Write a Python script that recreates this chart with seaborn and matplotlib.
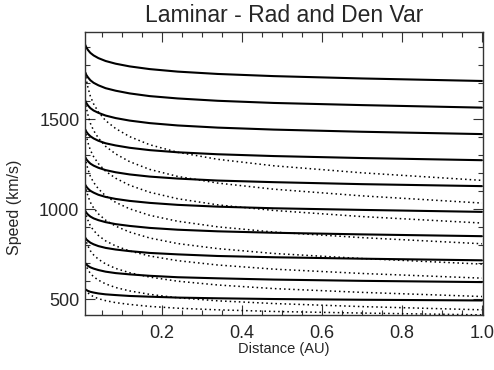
import pandas as pd
import matplotlib
matplotlib.use("Agg")
import matplotlib.pyplot as plt
import seaborn as sns
from matplotlib.ticker import MultipleLocator

# Distance samples (AU)
distance = [0.0093, 0.012, 0.016, 0.022, 0.03, 0.042, 0.06, 0.085,
            0.12, 0.17, 0.24, 0.34, 0.48, 0.7, 1.0]

# Solid curves (km/s)
solid_1 = [1913, 1899, 1885, 1869, 1855, 1840, 1824, 1809, 1794, 1779, 1765, 1752, 1740, 1727, 1713]
solid_2 = [1760, 1746, 1733, 1717, 1703, 1689, 1673, 1659, 1644, 1629, 1616, 1603, 1591, 1579, 1565]
solid_3 = [1603, 1590, 1577, 1562, 1549, 1536, 1521, 1507, 1493, 1479, 1466, 1454, 1443, 1431, 1418]
solid_4 = [1443, 1431, 1419, 1406, 1394, 1381, 1367, 1355, 1342, 1329, 1317, 1306, 1296, 1285, 1273]
solid_5 = [1289, 1278, 1267, 1254, 1243, 1231, 1218, 1206, 1194, 1182, 1171, 1160, 1151, 1140, 1129]
solid_6 = [1136, 1126, 1115, 1103, 1093, 1081, 1069, 1058, 1047, 1036, 1025, 1015, 1006, 997, 986]
solid_7 = [991, 981, 971, 960, 950, 940, 929, 918, 908, 897, 887, 878, 870, 861, 851]
solid_8 = [842, 833, 825, 815, 806, 796, 786, 777, 768, 758, 750, 741, 734, 726, 717]
solid_9 = [701, 694, 686, 678, 671, 663, 654, 646, 639, 631, 623, 617, 610, 603, 596]
solid_10 = [556, 552, 547, 542, 538, 533, 528, 524, 519, 515, 510, 506, 502, 498, 494]

# Dotted curves (km/s)
dotted_1 = [1760, 1718, 1676, 1628, 1586, 1541, 1493, 1449, 1404, 1359, 1317, 1278, 1242, 1203, 1161]
dotted_2 = [1603, 1563, 1524, 1478, 1438, 1396, 1350, 1308, 1265, 1222, 1183, 1146, 1112, 1075, 1035]
dotted_3 = [1443, 1407, 1370, 1329, 1293, 1254, 1212, 1173, 1134, 1095, 1059, 1025, 994, 960, 924]
dotted_4 = [1289, 1255, 1222, 1183, 1150, 1114, 1075, 1039, 1003, 967, 934, 903, 874, 843, 809]
dotted_5 = [1136, 1105, 1074, 1039, 1008, 975, 940, 907, 874, 841, 810, 782, 755, 727, 696]
dotted_6 = [991, 965, 939, 909, 883, 855, 825, 797, 769, 741, 715, 691, 668, 644, 618]
dotted_7 = [842, 819, 796, 770, 747, 723, 697, 672, 648, 624, 601, 580, 560, 539, 516]
dotted_8 = [701, 683, 665, 644, 626, 607, 586, 566, 547, 528, 509, 492, 477, 460, 442]
dotted_9 = [556, 546, 536, 525, 515, 504, 493, 482, 472, 461, 451, 442, 433, 424, 414]

solid = [solid_1, solid_2, solid_3, solid_4, solid_5,
         solid_6, solid_7, solid_8, solid_9, solid_10]
dotted = [dotted_1, dotted_2, dotted_3, dotted_4, dotted_5,
          dotted_6, dotted_7, dotted_8, dotted_9]


def to_frame(curves, tag):
    rows = []
    for i, c in enumerate(curves):
        for r, v in zip(distance, c):
            rows.append({"r": r, "speed": v, "curve": f"{tag}{i}"})
    return pd.DataFrame(rows)


df_solid = to_frame(solid, "s")
df_dot = to_frame(dotted, "d")

sns.set_style("ticks")
plt.rcParams['font.family'] = ['Liberation Sans', 'DejaVu Sans']

fig = plt.figure(figsize=(4.94, 3.70), dpi=100)
ax = fig.add_axes([0.172, 0.149, 0.806, 0.765])

sns.lineplot(data=df_dot, x="r", y="speed", units="curve", estimator=None,
             color="black", lw=1.1, linestyle=(0, (1, 2)), ax=ax, legend=False)
sns.lineplot(data=df_solid, x="r", y="speed", units="curve", estimator=None,
             color="black", lw=1.5, ax=ax, legend=False)

ax.set_xlim(0.0085, 1.003)
ax.set_ylim(414, 1986)
ax.xaxis.set_minor_locator(MultipleLocator(0.05))
ax.yaxis.set_major_locator(MultipleLocator(500))
ax.yaxis.set_minor_locator(MultipleLocator(100))
ax.set_xticks([0.2, 0.4, 0.6, 0.8, 1.0])
ax.set_xticklabels(["0.2", "0.4", "0.6", "0.8", "1.0"])

ax.tick_params(which="both", direction="in", top=True, right=True,
               labelsize=13, color="#333333", width=0.8)
ax.tick_params(which="major", length=7)
ax.tick_params(which="minor", length=3.5)
ax.tick_params(axis="x", which="major", pad=7)
ax.tick_params(axis="y", which="major", pad=4)
for s in ax.spines.values():
    s.set_color("#333333")
    s.set_linewidth(1.0)

ax.set_title("Laminar - Rad and Den Var", fontsize=16.5, pad=7)
ax.set_xlabel("Distance (AU)", fontsize=10.5)
ax.set_ylabel("Speed (km/s)", fontsize=11.5)
ax.xaxis.set_label_coords(0.5, -0.097)
ax.yaxis.set_label_coords(-0.158, 0.38)

fig.savefig("out.png", dpi=100)
